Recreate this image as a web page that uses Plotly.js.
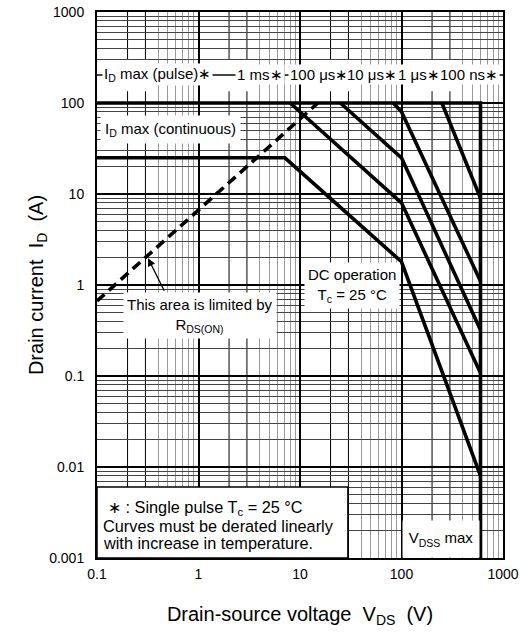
<!DOCTYPE html>
<html>
<head>
<meta charset="utf-8">
<script src="https://cdn.plot.ly/plotly-3.0.1.min.js"></script>
<style>html,body{margin:0;padding:0;background:#fff;}#chart{width:521px;height:634px;}</style>
</head>
<body>
<div id="chart"></div>
<script>
// ---- data ----
const xTickVals = [0.1, 1, 10, 100, 1000];
const xTickText = ['0.1', '1', '10', '100', '1000'];
const yTickVals = [0.001, 0.01, 0.1, 1, 10, 100, 1000];
const yTickText = ['0.001', '0.01', '0.1', '1', '10', '100', '1000'];

// I_D max (pulse) + V_DSS max boundary (100 ns)
const pulseX = [0.1, 600, 600];
const pulseY = [100, 100, 0.001];
// DC operation
const dcX = [0.1, 7.1, 100, 600];
const dcY = [25, 25, 1.8, 0.008];
// 1 ms
const ms1X = [8, 100, 600];
const ms1Y = [100, 8, 0.108];
// 100 us
const us100X = [25, 100, 600];
const us100Y = [100, 25, 0.32];
// 10 us
const us10X = [83, 100, 600];
const us10Y = [100, 80, 1.1];
// 1 us
const us1X = [250, 600];
const us1Y = [100, 9];
// R_DS(ON) limit (dashed)
const rdsX = [0.1, 15];
const rdsY = [0.667, 100];

// note box lines
const noteLines = [
  '\u2217 : Single pulse T<sub>c</sub> = 25 \u00b0C',
  'Curves must be derated linearly',
  'with increase in temperature.'
];

// grid line positions
const decadesX = [0.1, 1, 10, 100];
const decadesY = [0.001, 0.01, 0.1, 1, 10, 100];
const darkMult = [2, 3];
const lightMult = [4, 5, 6, 7, 8, 9];

const FONT = 'Arial, "Liberation Sans", sans-serif';
const line = {color: '#000', width: 3.6};

function tr(x, y, extra) {
  return Object.assign({x: x, y: y, type: 'scatter', mode: 'lines', line: line,
    hoverinfo: 'skip', showlegend: false, cliponaxis: true}, extra || {});
}

const traces = [
  tr(rdsX, rdsY, {line: {color: '#000', width: 3.6, dash: '10px,6px'}}),
  tr(dcX, dcY),
  tr(ms1X, ms1Y),
  tr(us100X, us100Y),
  tr(us10X, us10Y),
  tr(us1X, us1Y),
  tr(pulseX, pulseY)
];

const minorX = [], darkX = [];
decadesX.forEach(d => { lightMult.forEach(m => minorX.push(d * m)); darkMult.forEach(m => darkX.push(d * m)); });
const minorY = [];
decadesY.forEach(d => { darkMult.concat(lightMult).forEach(m => minorY.push(d * m)); });

const shapes = [];
darkX.forEach(v => shapes.push({type: 'line', xref: 'x', yref: 'paper', x0: v, x1: v, y0: 0, y1: 1,
  line: {color: '#000', width: 1}, layer: 'below'}));
// white band behind pulse labels
shapes.push({type: 'rect', xref: 'paper', yref: 'paper', x0: 0.003, x1: 0.997, y0: 0.855, y1: 0.914,
  fillcolor: '#fff', line: {width: 0}, layer: 'below'});
shapes.push({type: 'line', xref: 'paper', yref: 'paper', x0: 0, x1: 1, y0: 0.885, y1: 0.885,
  line: {color: '#000', width: 1}, layer: 'below'});
// note box
shapes.push({type: 'rect', xref: 'paper', yref: 'paper', x0: 0, x1: 0.618, y0: 0, y1: 0.130,
  fillcolor: '#fff', line: {color: '#000', width: 1.5}, layer: 'above'});

const af = {family: FONT, size: 15, color: '#000'};
function lab(text, x, y, extra) {
  return Object.assign({text: text, xref: 'paper', yref: 'paper', x: x, y: y, showarrow: false,
    xanchor: 'center', yanchor: 'middle', font: af, bgcolor: '#fff', borderpad: 2}, extra || {});
}
const nf = {family: FONT, size: 16.3, color: '#000'};
const bandOpt = {borderpad: 1};

const annotations = [
  lab('I<sub>D</sub> max (pulse)\u2217', 0.148, 0.885, bandOpt),
  lab('1 ms\u2217', 0.401, 0.885, bandOpt),
  lab('100 \u03bcs\u2217', 0.547, 0.885, bandOpt),
  lab('10 \u03bcs\u2217', 0.677, 0.885, bandOpt),
  lab('1 \u03bcs\u2217', 0.793, 0.885, bandOpt),
  lab('100 ns\u2217', 0.917, 0.885, bandOpt),
  lab('I<sub>D</sub> max (continuous)', 0.18, 0.784, {borderpad: 4}),
  lab('DC operation<br>T<sub>c</sub> = 25 \u00b0C', 0.628, 0.5, {borderpad: 3}),
  lab('This area is limited by<br>R<sub>DS(ON)</sub>', 0.254, 0.445, {borderpad: 3}),
  {text: '', xref: 'paper', yref: 'paper', x: 0.1256, y: 0.549, ax: 17, ay: 34, showarrow: true,
    arrowhead: 2, arrowsize: 1.2, arrowwidth: 1.3, arrowcolor: '#000', standoff: 0},
  lab(noteLines[0], 0.0246, 0.0916, {xanchor: 'left', bgcolor: 'rgba(0,0,0,0)', borderpad: 0, font: nf}),
  lab(noteLines[1], 0.0123, 0.0586, {xanchor: 'left', bgcolor: 'rgba(0,0,0,0)', borderpad: 0, font: nf}),
  lab(noteLines[2], 0.0123, 0.0275, {xanchor: 'left', bgcolor: 'rgba(0,0,0,0)', borderpad: 0, font: nf}),
  lab('V<sub>DSS</sub> max', 0.751, 0, {xanchor: 'left', yanchor: 'bottom', width: 70, height: 30, borderpad: 3})
];

const layout = {
  width: 521, height: 634,
  margin: {l: 97, r: 18, t: 12, b: 76},
  paper_bgcolor: '#fff', plot_bgcolor: '#fff',
  showlegend: false,
  xaxis: {
    type: 'log', range: [-1, 3], tickmode: 'array', tickvals: xTickVals, ticktext: xTickText,
    showgrid: true, gridcolor: '#000', gridwidth: 2,
    minor: {tickmode: 'array', tickvals: minorX, showgrid: true, gridcolor: '#9a9a9a', gridwidth: 1, ticks: ''},
    showline: true, mirror: true, linecolor: '#000', linewidth: 2, zeroline: false,
    ticks: '', ticklabelstandoff: 2,
    tickfont: {family: FONT, size: 14, color: '#000'},
    title: {text: 'Drain-source voltage\u00a0\u00a0V<sub>DS</sub>\u00a0\u00a0(V)', font: {family: FONT, size: 20, color: '#000'}, standoff: 26},
    automargin: false, fixedrange: true
  },
  yaxis: {
    type: 'log', range: [-3, 3], tickmode: 'array', tickvals: yTickVals, ticktext: yTickText,
    showgrid: true, gridcolor: '#000', gridwidth: 2,
    minor: {tickmode: 'array', tickvals: minorY, showgrid: true, gridcolor: '#444', gridwidth: 1, ticks: ''},
    showline: true, mirror: true, linecolor: '#000', linewidth: 2, zeroline: false,
    ticks: '', ticklabelstandoff: 8,
    tickfont: {family: FONT, size: 14, color: '#000'},
    title: {text: 'Drain current\u00a0\u00a0I<sub>D</sub>\u00a0\u00a0(A)', font: {family: FONT, size: 20, color: '#000'}, standoff: 0},
    automargin: false, fixedrange: true
  },
  shapes: shapes,
  annotations: annotations
};

Plotly.newPlot('chart', traces, layout, {staticPlot: true, displayModeBar: false});
</script>
</body>
</html>
